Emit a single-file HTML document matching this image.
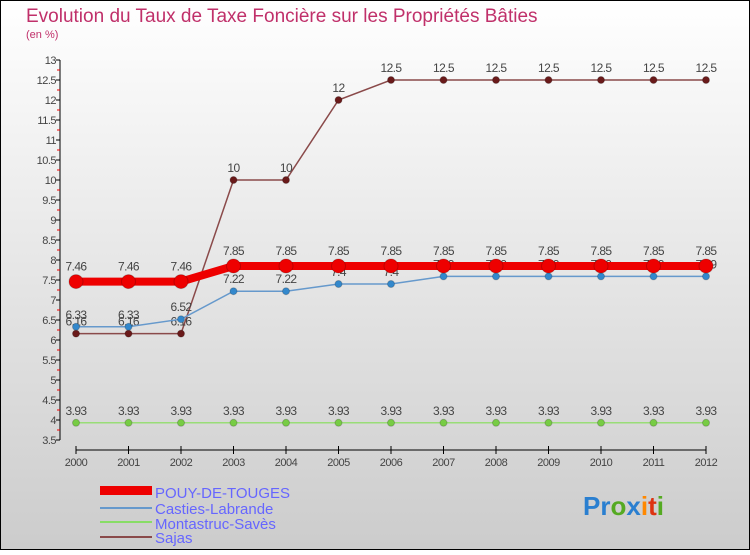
<!DOCTYPE html>
<html><head><meta charset="utf-8"><style>
body{margin:0;width:750px;height:550px;overflow:hidden;font-family:"Liberation Sans",sans-serif}
</style></head><body>
<svg width="750" height="550" xmlns="http://www.w3.org/2000/svg">
<defs><linearGradient id="bg" x1="0" y1="0" x2="0" y2="1"><stop offset="0" stop-color="#ffffff"/><stop offset="1" stop-color="#cccccc"/></linearGradient></defs>
<rect x="0.5" y="0.5" width="749" height="549" fill="url(#bg)" stroke="#000"/>
<text x="26" y="22" font-size="19" fill="#c0306a">Evolution du Taux de Taxe Foncière sur les Propriétés Bâties</text>
<text x="26" y="38" font-size="11" fill="#c0306a">(en %)</text>
<g id="axes"></g><g id="series"></g>
<g>
<rect x="100" y="486" width="52" height="9" fill="#ee0000"/>
<line x1="100" y1="508" x2="152" y2="508" stroke="#6699cc" stroke-width="2"/>
<line x1="100" y1="522" x2="152" y2="522" stroke="#88dd66" stroke-width="2"/>
<line x1="100" y1="537" x2="152" y2="537" stroke="#8a4a4a" stroke-width="2"/>
<g font-size="15" fill="#6666ff">
<text x="155" y="498">POUY-DE-TOUGES</text>
<text x="155" y="514">Casties-Labrande</text>
<text x="155" y="529">Montastruc-Savès</text>
<text x="155" y="543">Sajas</text>
</g></g>
<g font-size="26" font-weight="bold">
<text x="583" y="515"><tspan fill="#2a7fd0">Pr</tspan><tspan fill="#55aa22">o</tspan><tspan fill="#2a7fd0">x</tspan><tspan fill="#ff8800">i</tspan><tspan fill="#dd3311">t</tspan><tspan fill="#55aa22">i</tspan></text>
</g>
</svg>
<script>
const years=[2000,2001,2002,2003,2004,2005,2006,2007,2008,2009,2010,2011,2012];
const pouy=[7.46,7.46,7.46,7.85,7.85,7.85,7.85,7.85,7.85,7.85,7.85,7.85,7.85];
const casties=[6.33,6.33,6.52,7.22,7.22,7.4,7.4,7.59,7.59,7.59,7.59,7.59,7.59];
const montastruc=[3.93,3.93,3.93,3.93,3.93,3.93,3.93,3.93,3.93,3.93,3.93,3.93,3.93];
const sajas=[6.16,6.16,6.16,10,10,12,12.5,12.5,12.5,12.5,12.5,12.5,12.5];
const yTicks=[3.5,4,4.5,5,5.5,6,6.5,7,7.5,8,8.5,9,9.5,10,10.5,11,11.5,12,12.5,13];
const NS='http://www.w3.org/2000/svg';
const X=i=>76+i*52.5, Y=v=>440-(v-3.5)*40;
function mk(t,a,p){const e=document.createElementNS(NS,t);for(const k in a)e.setAttribute(k,a[k]);p.appendChild(e);return e;}
const ax=document.getElementById('axes');
const ya=mk('line',{x1:60,y1:Y(13),x2:60,y2:Y(3.5),stroke:'#000'},ax);


yTicks.forEach(v=>{
 mk('line',{x1:56,x2:60,y1:Y(v),y2:Y(v),stroke:'#000'},ax);
 if(v<13) mk('line',{x1:57,x2:60,y1:Y(v)-10,y2:Y(v)-10,stroke:'#e00'},ax);
 const t=mk('text',{x:56,y:Y(v)+4,'text-anchor':'end','font-size':11,fill:'#444','letter-spacing':'-0.5'},ax);
 t.textContent=String(v);
 
 
});
const xa=mk('line',{x1:76,y1:450,x2:706,y2:450,stroke:'#000'},ax);


years.forEach((y,i)=>{
 mk('line',{x1:X(i),x2:X(i),y1:446,y2:454,stroke:'#000'},ax);
 const t=mk('text',{x:X(i),y:466,'text-anchor':'middle','font-size':11,fill:'#444','letter-spacing':'-0.5'},ax);
 t.textContent=String(y);
 
 
});
const sg=document.getElementById('series');
function draw(name,vals,color,w,r,fill){
 const g=mk('g',{},sg);
 
 
 mk('polyline',{points:vals.map((v,i)=>X(i)+','+Y(v)).join(' '),fill:'none',stroke:color,'stroke-width':w},g);
 vals.forEach((v,i)=>{
  const c=mk('circle',{cx:X(i),cy:Y(v),r:r,fill:fill,stroke:'#00000033'},g);
  
  
  const t=mk('text',{x:X(i),y:Y(v)-8-(r>5?3:0),'text-anchor':'middle','font-size':12,fill:'#444','letter-spacing':'-0.6'},g);
  t.textContent=String(v);
  
  
 });
}
draw('sajas',sajas,'#8a4a4a',1.5,3.5,'#6a1a1a');
draw('montastruc',montastruc,'#99dd77',1.5,3.5,'#77cc44');
draw('casties',casties,'#6699cc',1.5,3.5,'#3388cc');
draw('pouy',pouy,'#ee0000',8,7,'#ee0000');
</script>
</body></html>
